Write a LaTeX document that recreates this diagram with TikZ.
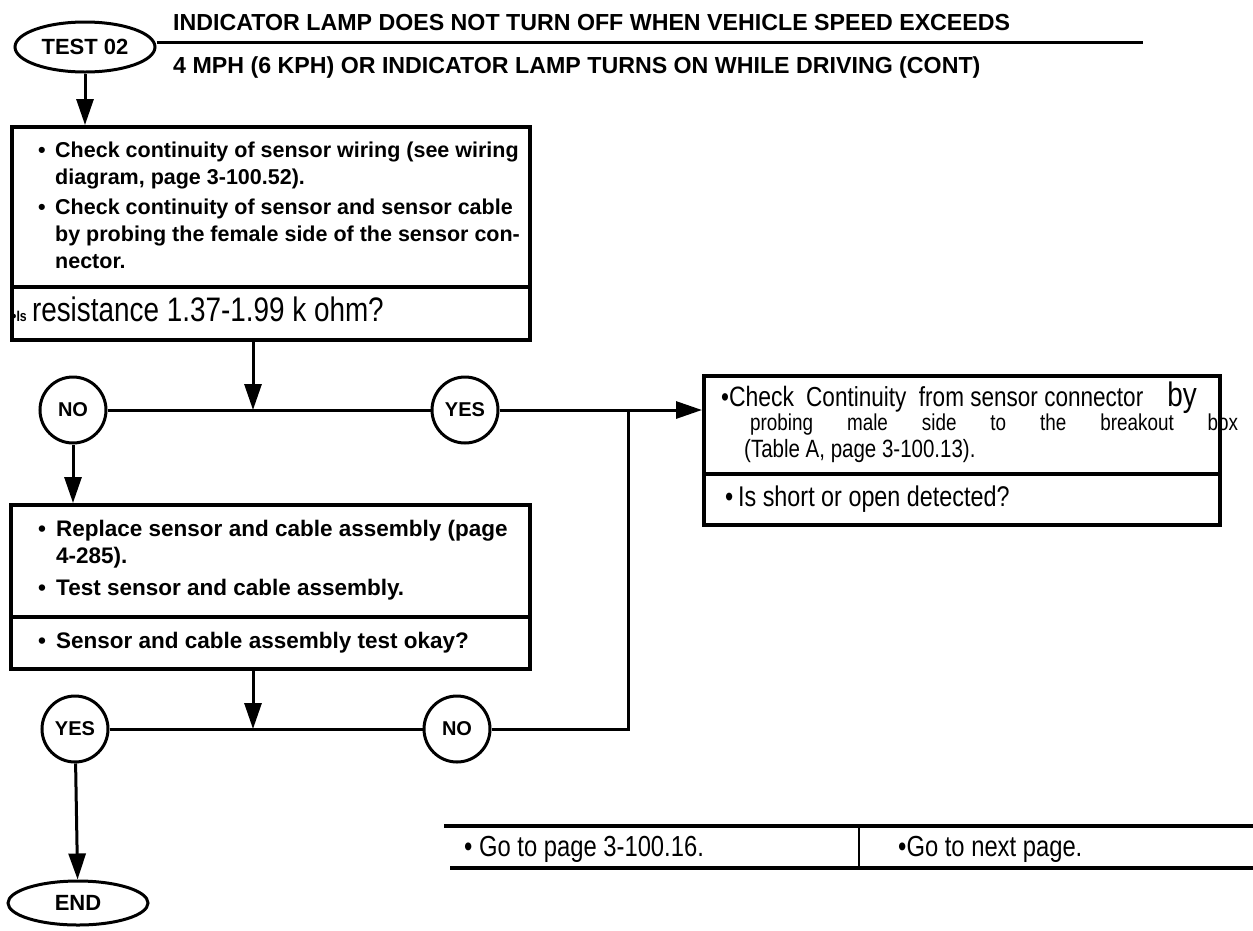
\documentclass[tikz,border=0pt]{standalone}
\usepackage{fontspec}
\setmainfont{Liberation Sans}
\newfontfamily\narrowfont[FakeStretch=0.82]{Liberation Sans}
\usetikzlibrary{arrows.meta,shapes.geometric}

\tikzset{
  box/.style={draw, line width=3.5pt, anchor=north west, inner sep=0pt},
  head/.style={font=\fontsize{23.2}{23}\selectfont\bfseries, anchor=base west, inner sep=0pt},
  bul/.style={font=\fontsize{21.5}{27}\selectfont\bfseries, anchor=base west, align=left, inner sep=0pt},
  bultwo/.style={bul, font=\fontsize{22.5}{27}\selectfont\bfseries},
  nar/.style={font=\fontsize{23}{23}\narrowfont, anchor=base west, inner sep=0pt},
  term/.style={draw, ellipse, line width=3pt, minimum width=140pt, minimum height=50pt, inner sep=0pt, font=\fontsize{22}{22}\selectfont\bfseries},
  answer/.style={draw, circle, line width=3pt, minimum size=66pt, inner sep=0pt, font=\fontsize{20}{20}\selectfont\bfseries},
  flow/.style={line width=3pt},
  flowarrow/.style={line width=3pt, -{Triangle[length=26pt,width=17pt]}},
  tabline/.style={line width=3.5pt}
}

\begin{document}
\begin{tikzpicture}[x=1pt, y=-1pt]
  \useasboundingbox (0,0) rectangle (1253,930);

  % Header
  \node[term] (test) at (85,47) {TEST 02};
  \node[head] (title1) at (173,30) {INDICATOR LAMP DOES NOT TURN OFF WHEN VEHICLE SPEED EXCEEDS};
  \node[head] (title2) at (173,73) {4 MPH (6 KPH) OR INDICATOR LAMP TURNS ON WHILE DRIVING (CONT)};
  \coordinate (rulend) at (1143,42);
  \draw[flow] (test.east |- rulend) -- (rulend);

  % Sensor wiring check
  \node[box, minimum width=518pt, minimum height=160pt] (box1a) at (10,125) {};
  \node[box, minimum width=518pt, minimum height=53pt] (box1b) at (10,285) {};
  \node[bul] (wire1) at (38,184) {\makebox[17pt][l]{•}Check continuity of sensor wiring (see wiring\\
    \hspace*{17pt}diagram, page 3-100.52).};
  \node[bul] (wire2) at (38,268) {\makebox[17pt][l]{•}Check continuity of sensor and sensor cable\\
    \hspace*{17pt}by probing the female side of the sensor con-\\
    \hspace*{17pt}nector.};
  \node[nar] (ask1) at (12,321) {{\fontsize{15}{15}\selectfont\bfseries •Is} {\fontsize{34}{34}\selectfont resistance 1.37-1.99 k ohm?}};
  \draw[flowarrow] (test.south) -- (test.south |- box1a.north);

  % First answer row
  \node[answer] (no1) at (73,410) {NO};
  \node[answer] (yes1) at (465,410) {YES};
  \coordinate (merge1) at (253,410);
  \coordinate (join) at (628,410);
  \draw[flowarrow] (box1b.south -| merge1) -- (merge1);
  \draw[flow] (no1) -- (yes1);

  % Breakout box check
  \node[box, minimum width=516pt, minimum height=98pt] (rboxa) at (702,374) {};
  \node[box, minimum width=516pt, minimum height=51pt] (rboxb) at (702,472) {};
  \node[nar, font=\fontsize{27.5}{23}\narrowfont] (brk1) at (721,406) {•{\fontsize{28}{28}\selectfont Check}\hspace{12pt}Continuity\ \ from sensor connector\hspace{24pt}{\fontsize{34}{34}\selectfont by}};
  \node[nar] (brk2) at (750,430) {\makebox[488pt][s]{probing male side to the breakout box}};
  \node[nar, font=\fontsize{25}{23}\narrowfont] (brk3) at (744,457) {(Table A, page 3-100.13).};
  \node[nar, font=\fontsize{28.5}{28}\narrowfont] (ask2) at (725,506) {•\,Is short or open detected?};
  \draw[flowarrow] (yes1) -- (yes1 -| rboxa.west);

  % Replace sensor
  \node[box, minimum width=519pt, minimum height=112pt] (box2a) at (9,503) {};
  \node[box, minimum width=519pt, minimum height=52pt] (box2b) at (9,615) {};
  \node[bultwo] (repl1) at (38,563) {\makebox[18pt][l]{•}Replace sensor and cable assembly (page\\
    \hspace*{18pt}4-285).};
  \node[bultwo] (repl2) at (38,595) {\makebox[18pt][l]{•}Test sensor and cable assembly.};
  \node[bultwo] (ask3) at (38,648) {\makebox[18pt][l]{•}Sensor and cable assembly test okay?};
  \draw[flowarrow] (no1) -- (no1 |- box2a.north);

  % Second answer row
  \node[answer] (yes2) at (75,729) {YES};
  \node[answer] (no2) at (457,729) {NO};
  \coordinate (merge2) at (253,729);
  \draw[flowarrow] (box2b.south -| merge2) -- (merge2);
  \draw[flow] (yes2) -- (no2);
  \draw[flow] (no2) -| (join);

  % End
  \node[term, minimum height=44pt] (end) at (78,903) {END};
  \draw[flowarrow] (yes2) -- (end);

  % Result table
  \coordinate (tabtl) at (444,826);
  \coordinate (tabtr) at (1253,826);
  \coordinate (tabbl) at (450,868);
  \coordinate (tabbr) at (1253,868);
  \coordinate (tabmid) at (859,826);
  \draw[tabline] (tabtl) -- (tabtr);
  \draw[tabline] (tabbl) -- (tabbr);
  \draw[line width=2pt] (tabmid) -- (tabmid |- tabbl);
  \node[nar, font=\fontsize{29}{29}\narrowfont] (go1) at (464,856) {• Go to page 3-100.16.};
  \node[nar, font=\fontsize{29}{29}\narrowfont] (go2) at (898,856) {•Go to next page.};
\end{tikzpicture}
\end{document}
